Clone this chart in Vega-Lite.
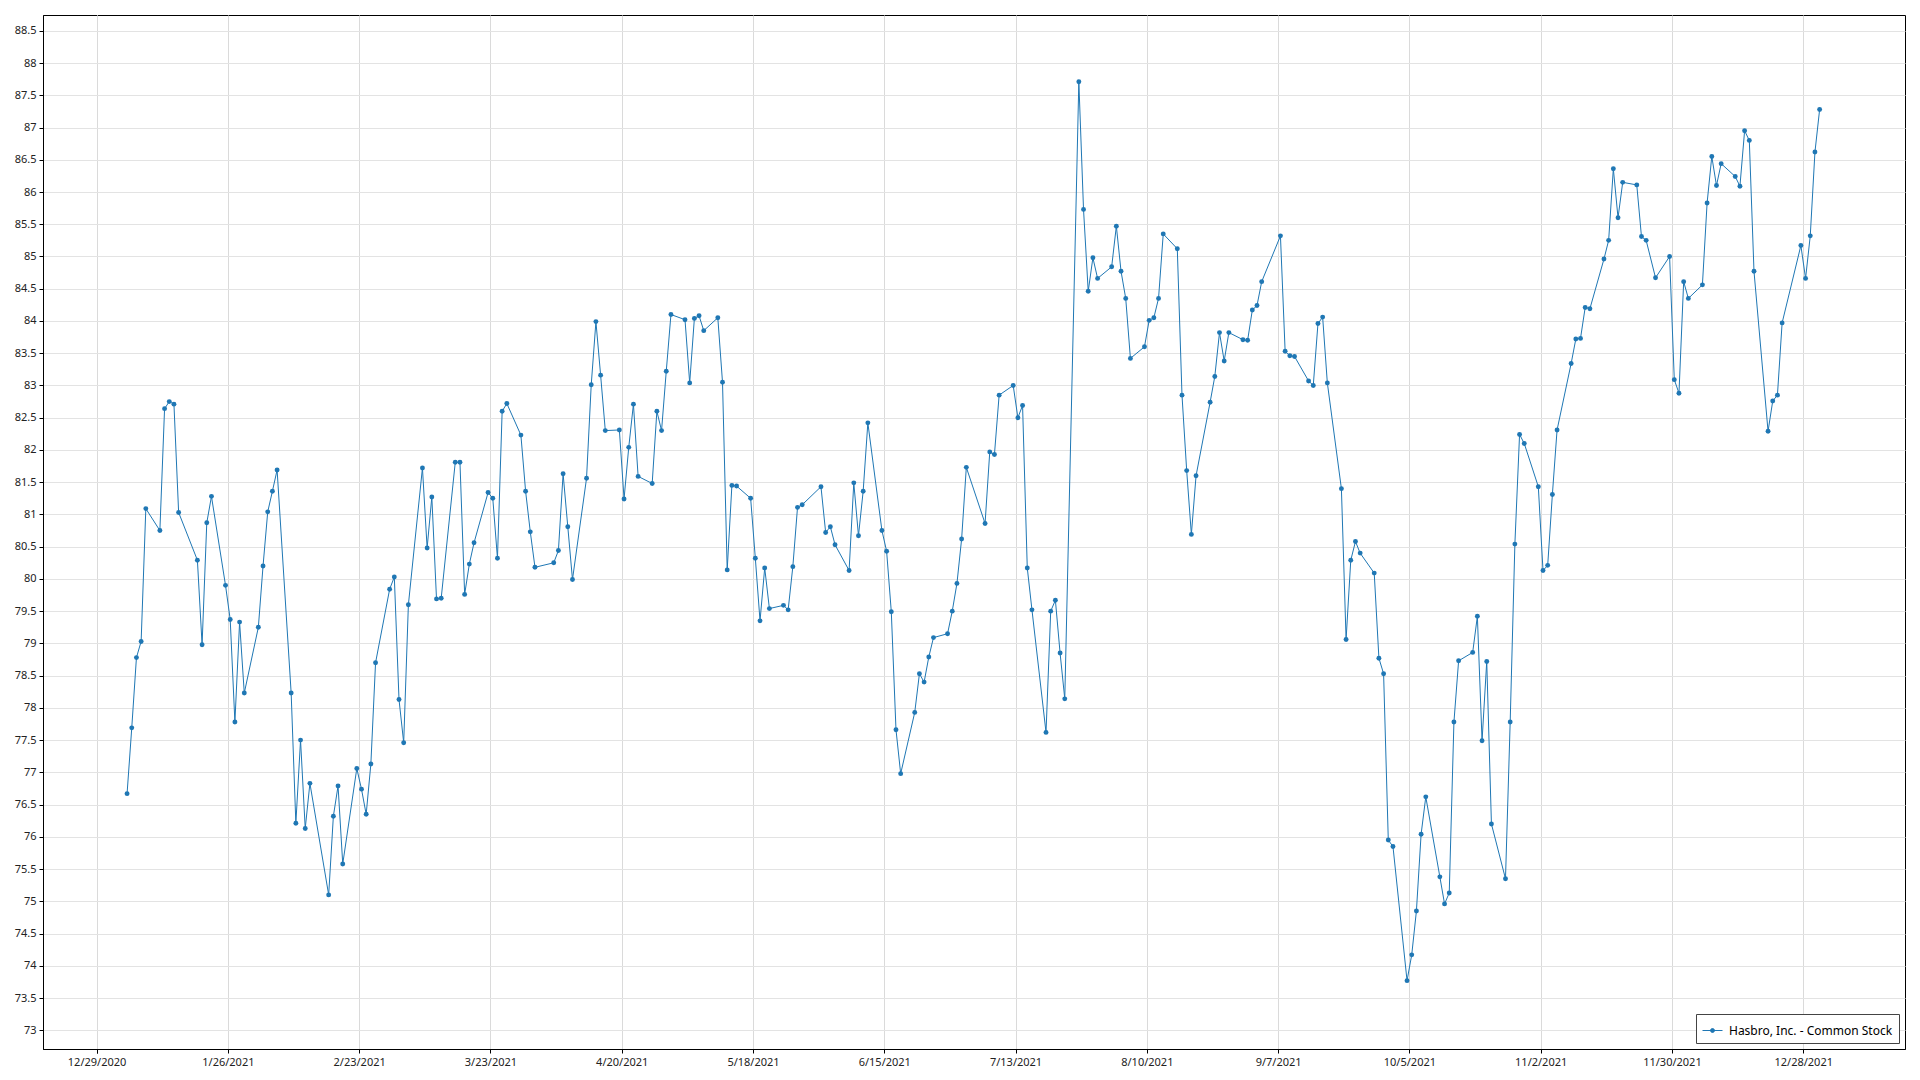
{
"$schema": "https://vega.github.io/schema/vega-lite/v6.json",
"width": 1862, "height": 1034,
"autosize": {"type": "none"},
"padding": {"left": 43, "top": 15, "right": 15, "bottom": 31},
"background": "white",
"config": {"view": {"stroke": "#000", "strokeWidth": 1}, "font": "Noto Sans"},
"data": {"values": [
{"date":"2021-01-04","close":76.67},{"date":"2021-01-05","close":77.69},{"date":"2021-01-06","close":78.78},{"date":"2021-01-07","close":79.03},{"date":"2021-01-08","close":81.09},
{"date":"2021-01-11","close":80.75},{"date":"2021-01-12","close":82.64},{"date":"2021-01-13","close":82.75},{"date":"2021-01-14","close":82.71},{"date":"2021-01-15","close":81.03},
{"date":"2021-01-19","close":80.29},{"date":"2021-01-20","close":78.98},{"date":"2021-01-21","close":80.87},{"date":"2021-01-22","close":81.28},
{"date":"2021-01-25","close":79.9},{"date":"2021-01-26","close":79.37},{"date":"2021-01-27","close":77.78},{"date":"2021-01-28","close":79.33},{"date":"2021-01-29","close":78.23},
{"date":"2021-02-01","close":79.25},{"date":"2021-02-02","close":80.2},{"date":"2021-02-03","close":81.04},{"date":"2021-02-04","close":81.36},{"date":"2021-02-05","close":81.69},
{"date":"2021-02-08","close":78.23},{"date":"2021-02-09","close":76.21},{"date":"2021-02-10","close":77.5},{"date":"2021-02-11","close":76.13},{"date":"2021-02-12","close":76.83},
{"date":"2021-02-16","close":75.1},{"date":"2021-02-17","close":76.32},{"date":"2021-02-18","close":76.79},{"date":"2021-02-19","close":75.58},
{"date":"2021-02-22","close":77.06},{"date":"2021-02-23","close":76.74},{"date":"2021-02-24","close":76.35},{"date":"2021-02-25","close":77.13},{"date":"2021-02-26","close":78.7},
{"date":"2021-03-01","close":79.84},{"date":"2021-03-02","close":80.03},{"date":"2021-03-03","close":78.13},{"date":"2021-03-04","close":77.46},{"date":"2021-03-05","close":79.6},
{"date":"2021-03-08","close":81.72},{"date":"2021-03-09","close":80.48},{"date":"2021-03-10","close":81.27},{"date":"2021-03-11","close":79.69},{"date":"2021-03-12","close":79.7},
{"date":"2021-03-15","close":81.81},{"date":"2021-03-16","close":81.81},{"date":"2021-03-17","close":79.76},{"date":"2021-03-18","close":80.23},{"date":"2021-03-19","close":80.56},
{"date":"2021-03-22","close":81.34},{"date":"2021-03-23","close":81.25},{"date":"2021-03-24","close":80.32},{"date":"2021-03-25","close":82.6},{"date":"2021-03-26","close":82.72},
{"date":"2021-03-29","close":82.23},{"date":"2021-03-30","close":81.36},{"date":"2021-03-31","close":80.73},{"date":"2021-04-01","close":80.18},
{"date":"2021-04-05","close":80.25},{"date":"2021-04-06","close":80.44},{"date":"2021-04-07","close":81.63},{"date":"2021-04-08","close":80.81},{"date":"2021-04-09","close":79.99},
{"date":"2021-04-12","close":81.56},{"date":"2021-04-13","close":83.01},{"date":"2021-04-14","close":83.99},{"date":"2021-04-15","close":83.16},{"date":"2021-04-16","close":82.3},
{"date":"2021-04-19","close":82.31},{"date":"2021-04-20","close":81.24},{"date":"2021-04-21","close":82.04},{"date":"2021-04-22","close":82.71},{"date":"2021-04-23","close":81.59},
{"date":"2021-04-26","close":81.48},{"date":"2021-04-27","close":82.6},{"date":"2021-04-28","close":82.3},{"date":"2021-04-29","close":83.22},{"date":"2021-04-30","close":84.1},
{"date":"2021-05-03","close":84.02},{"date":"2021-05-04","close":83.04},{"date":"2021-05-05","close":84.04},{"date":"2021-05-06","close":84.08},{"date":"2021-05-07","close":83.85},
{"date":"2021-05-10","close":84.05},{"date":"2021-05-11","close":83.05},{"date":"2021-05-12","close":80.14},{"date":"2021-05-13","close":81.45},{"date":"2021-05-14","close":81.44},
{"date":"2021-05-17","close":81.25},{"date":"2021-05-18","close":80.32},{"date":"2021-05-19","close":79.35},{"date":"2021-05-20","close":80.17},{"date":"2021-05-21","close":79.54},
{"date":"2021-05-24","close":79.59},{"date":"2021-05-25","close":79.52},{"date":"2021-05-26","close":80.19},{"date":"2021-05-27","close":81.11},{"date":"2021-05-28","close":81.15},
{"date":"2021-06-01","close":81.43},{"date":"2021-06-02","close":80.72},{"date":"2021-06-03","close":80.81},{"date":"2021-06-04","close":80.53},
{"date":"2021-06-07","close":80.13},{"date":"2021-06-08","close":81.49},{"date":"2021-06-09","close":80.67},{"date":"2021-06-10","close":81.36},{"date":"2021-06-11","close":82.42},
{"date":"2021-06-14","close":80.75},{"date":"2021-06-15","close":80.43},{"date":"2021-06-16","close":79.49},{"date":"2021-06-17","close":77.66},{"date":"2021-06-18","close":76.98},
{"date":"2021-06-21","close":77.93},{"date":"2021-06-22","close":78.53},{"date":"2021-06-23","close":78.4},{"date":"2021-06-24","close":78.79},{"date":"2021-06-25","close":79.09},
{"date":"2021-06-28","close":79.15},{"date":"2021-06-29","close":79.5},{"date":"2021-06-30","close":79.93},{"date":"2021-07-01","close":80.62},{"date":"2021-07-02","close":81.73},
{"date":"2021-07-06","close":80.86},{"date":"2021-07-07","close":81.97},{"date":"2021-07-08","close":81.93},{"date":"2021-07-09","close":82.85},
{"date":"2021-07-12","close":83.0},{"date":"2021-07-13","close":82.5},{"date":"2021-07-14","close":82.69},{"date":"2021-07-15","close":80.17},{"date":"2021-07-16","close":79.52},
{"date":"2021-07-19","close":77.62},{"date":"2021-07-20","close":79.5},{"date":"2021-07-21","close":79.67},{"date":"2021-07-22","close":78.85},{"date":"2021-07-23","close":78.14},
{"date":"2021-07-26","close":87.71},{"date":"2021-07-27","close":85.73},{"date":"2021-07-28","close":84.46},{"date":"2021-07-29","close":84.98},{"date":"2021-07-30","close":84.66},
{"date":"2021-08-02","close":84.84},{"date":"2021-08-03","close":85.47},{"date":"2021-08-04","close":84.77},{"date":"2021-08-05","close":84.35},{"date":"2021-08-06","close":83.42},
{"date":"2021-08-09","close":83.6},{"date":"2021-08-10","close":84.01},{"date":"2021-08-11","close":84.05},{"date":"2021-08-12","close":84.35},{"date":"2021-08-13","close":85.35},
{"date":"2021-08-16","close":85.12},{"date":"2021-08-17","close":82.85},{"date":"2021-08-18","close":81.68},{"date":"2021-08-19","close":80.69},{"date":"2021-08-20","close":81.6},
{"date":"2021-08-23","close":82.74},{"date":"2021-08-24","close":83.14},{"date":"2021-08-25","close":83.82},{"date":"2021-08-26","close":83.38},{"date":"2021-08-27","close":83.82},
{"date":"2021-08-30","close":83.71},{"date":"2021-08-31","close":83.7},{"date":"2021-09-01","close":84.17},{"date":"2021-09-02","close":84.24},{"date":"2021-09-03","close":84.61},
{"date":"2021-09-07","close":85.32},{"date":"2021-09-08","close":83.53},{"date":"2021-09-09","close":83.46},{"date":"2021-09-10","close":83.45},
{"date":"2021-09-13","close":83.07},{"date":"2021-09-14","close":83.0},{"date":"2021-09-15","close":83.96},{"date":"2021-09-16","close":84.06},{"date":"2021-09-17","close":83.04},
{"date":"2021-09-20","close":81.4},{"date":"2021-09-21","close":79.06},{"date":"2021-09-22","close":80.29},{"date":"2021-09-23","close":80.58},{"date":"2021-09-24","close":80.4},
{"date":"2021-09-27","close":80.09},{"date":"2021-09-28","close":78.77},{"date":"2021-09-29","close":78.53},{"date":"2021-09-30","close":75.95},{"date":"2021-10-01","close":75.85},
{"date":"2021-10-04","close":73.77},{"date":"2021-10-05","close":74.17},{"date":"2021-10-06","close":74.85},{"date":"2021-10-07","close":76.04},{"date":"2021-10-08","close":76.62},
{"date":"2021-10-11","close":75.38},{"date":"2021-10-12","close":74.96},{"date":"2021-10-13","close":75.13},{"date":"2021-10-14","close":77.78},{"date":"2021-10-15","close":78.73},
{"date":"2021-10-18","close":78.86},{"date":"2021-10-19","close":79.42},{"date":"2021-10-20","close":77.49},{"date":"2021-10-21","close":78.72},{"date":"2021-10-22","close":76.2},
{"date":"2021-10-25","close":75.35},{"date":"2021-10-26","close":77.78},{"date":"2021-10-27","close":80.54},{"date":"2021-10-28","close":82.24},{"date":"2021-10-29","close":82.1},
{"date":"2021-11-01","close":81.43},{"date":"2021-11-02","close":80.13},{"date":"2021-11-03","close":80.21},{"date":"2021-11-04","close":81.31},{"date":"2021-11-05","close":82.31},
{"date":"2021-11-08","close":83.34},{"date":"2021-11-09","close":83.72},{"date":"2021-11-10","close":83.73},{"date":"2021-11-11","close":84.21},{"date":"2021-11-12","close":84.19},
{"date":"2021-11-15","close":84.96},{"date":"2021-11-16","close":85.25},{"date":"2021-11-17","close":86.36},{"date":"2021-11-18","close":85.6},{"date":"2021-11-19","close":86.15},
{"date":"2021-11-22","close":86.11},{"date":"2021-11-23","close":85.31},{"date":"2021-11-24","close":85.25},{"date":"2021-11-26","close":84.67},
{"date":"2021-11-29","close":85.0},{"date":"2021-11-30","close":83.09},{"date":"2021-12-01","close":82.88},{"date":"2021-12-02","close":84.61},{"date":"2021-12-03","close":84.35},
{"date":"2021-12-06","close":84.56},{"date":"2021-12-07","close":85.83},{"date":"2021-12-08","close":86.55},{"date":"2021-12-09","close":86.1},{"date":"2021-12-10","close":86.44},
{"date":"2021-12-13","close":86.24},{"date":"2021-12-14","close":86.09},{"date":"2021-12-15","close":86.95},{"date":"2021-12-16","close":86.8},{"date":"2021-12-17","close":84.77},
{"date":"2021-12-20","close":82.29},{"date":"2021-12-21","close":82.76},{"date":"2021-12-22","close":82.85},{"date":"2021-12-23","close":83.97},
{"date":"2021-12-27","close":85.17},{"date":"2021-12-28","close":84.66},{"date":"2021-12-29","close":85.32},{"date":"2021-12-30","close":86.62},{"date":"2021-12-31","close":87.28}
]},
"mark": {"type": "line", "strokeWidth": 1, "color": "#1f77b4", "point": {"filled": true, "size": 24}},
"encoding": {
  "x": {"field": "date", "type": "temporal", "timeUnit": "utcyearmonthdate", "bandPosition": 0.5,
    "scale": {"type": "utc", "domain": [{"year": 2020, "month": 12, "date": 17, "hours": 13, "minutes": 40, "utc": true}, {"year": 2022, "month": 1, "date": 18, "hours": 17, "utc": true}]},
    "axis": {"title": null, "format": "%-m/%-d/%Y", "grid": true, "gridColor": "#dadada", "tickSize": 4, "tickColor": "#000", "domainColor": "#000", "labelFontSize": 11, "labelColor": "#222", "labelPadding": 3, "labelFlush": false, "tickBand": "extent", "bandPosition": 0,
      "values": [
        {"year": 2020, "month": 12, "date": 29, "utc": true},
        {"year": 2021, "month": 1, "date": 26, "utc": true},
        {"year": 2021, "month": 2, "date": 23, "utc": true},
        {"year": 2021, "month": 3, "date": 23, "utc": true},
        {"year": 2021, "month": 4, "date": 20, "utc": true},
        {"year": 2021, "month": 5, "date": 18, "utc": true},
        {"year": 2021, "month": 6, "date": 15, "utc": true},
        {"year": 2021, "month": 7, "date": 13, "utc": true},
        {"year": 2021, "month": 8, "date": 10, "utc": true},
        {"year": 2021, "month": 9, "date": 7, "utc": true},
        {"year": 2021, "month": 10, "date": 5, "utc": true},
        {"year": 2021, "month": 11, "date": 2, "utc": true},
        {"year": 2021, "month": 11, "date": 30, "utc": true},
        {"year": 2021, "month": 12, "date": 28, "utc": true}
      ]}},
  "y": {"field": "close", "type": "quantitative",
    "scale": {"domain": [72.71, 88.745], "zero": false, "nice": false},
    "axis": {"title": null, "format": "~g", "grid": true, "gridColor": "#e3e3e3", "tickSize": 4, "tickColor": "#000", "domainColor": "#000", "labelFontSize": 11, "labelColor": "#222", "labelPadding": 3,
      "values": [73,73.5,74,74.5,75,75.5,76,76.5,77,77.5,78,78.5,79,79.5,80,80.5,81,81.5,82,82.5,83,83.5,84,84.5,85,85.5,86,86.5,87,87.5,88,88.5]}},
  "color": {"datum": "Hasbro, Inc. - Common Stock", "type": "nominal",
    "scale": {"range": ["#1f77b4"]},
    "legend": {"title": null, "orient": "bottom-right", "offset": 6, "fillColor": "white", "strokeColor": "#444", "padding": 6,
      "labelFontSize": 12, "labelColor": "#000", "labelOffset": 6, "labelLimit": 400,
      "symbolType": "M-1,0L1,0M-0.2,0a0.2,0.2 0 1,0 0.4,0a0.2,0.2 0 1,0 -0.4,0",
      "symbolSize": 400, "symbolStrokeWidth": 1, "symbolFillColor": "#1f77b4", "symbolStrokeColor": "#1f77b4"}}
}
}
